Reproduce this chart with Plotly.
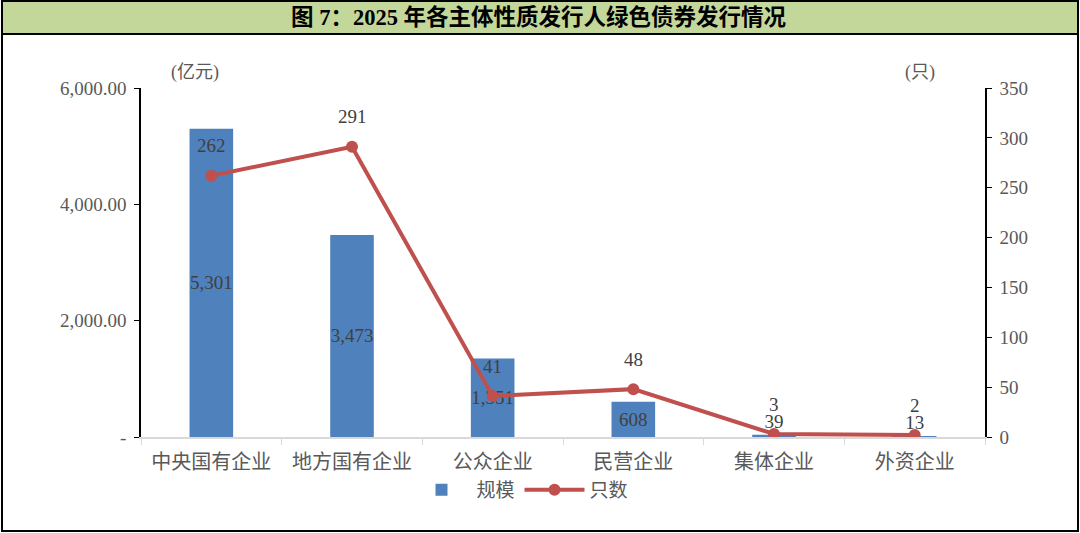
import plotly.graph_objects as go

categories = ["中央国有企业", "地方国有企业", "公众企业", "民营企业", "集体企业", "外资企业"]
scale_values = [5301, 3473, 1351, 608, 39, 13]
count_values = [262, 291, 41, 48, 3, 2]
left_tickvals = [0, 2000, 4000, 6000]
left_ticktext = ["-", "2,000.00", "4,000.00", "6,000.00"]
right_tickvals = [0, 50, 100, 150, 200, 250, 300, 350]

title_text = "图 7：2025 年各主体性质发行人绿色债券发行情况"
FONT = "Liberation Serif, Times New Roman, Noto Sans CJK SC"
W_PX, H_PX = 1080, 533
L, R, T, B = 141, 95, 88, 96
PW = W_PX - L - R
PH = H_PX - T - B


def px_x(px):
    return (px - L) / PW


def px_y(py):
    return (H_PX - B - py) / PH


fig = go.Figure()

fig.add_trace(go.Bar(
    x=categories, y=scale_values, name="规模",
    marker=dict(color="#4F81BD", line=dict(width=0)),
    width=0.31,
    text=[f"{v:,}" for v in scale_values],
    textposition=["inside"] * 4 + ["outside"] * 2,
    insidetextanchor="middle",
    constraintext="none",
    textangle=0,
    insidetextfont=dict(family=FONT, size=19, color="#404040"),
    outsidetextfont=dict(family=FONT, size=19, color="#404040"),
    cliponaxis=False,
))

fig.add_trace(go.Scatter(
    x=categories, y=count_values, name="只数", yaxis="y2",
    mode="lines+markers",
    line=dict(color="#C0504D", width=4),
    marker=dict(color="#C0504D", size=12),
))

annotations = []
for c, v in zip(categories, count_values):
    annotations.append(dict(
        x=c, y=v, xref="x", yref="y2", yshift=30, showarrow=False,
        xanchor="center", yanchor="middle",
        text=str(v), font=dict(family=FONT, size=19, color="#404040"),
    ))

annotations += [
    dict(x=px_x(539), y=px_y(18), xref="paper", yref="paper", showarrow=False,
         xanchor="center", yanchor="middle",
         text="<b>" + title_text + "</b>", font=dict(family=FONT, size=22.5, color="#000000")),
    dict(x=px_x(195), y=px_y(72), xref="paper", yref="paper", showarrow=False,
         xanchor="center", yanchor="middle",
         text="(亿元)", font=dict(family=FONT, size=18, color="#595959")),
    dict(x=px_x(920), y=px_y(72), xref="paper", yref="paper", showarrow=False,
         xanchor="center", yanchor="middle",
         text="(只)", font=dict(family=FONT, size=18, color="#595959")),
]

shapes = [
    dict(type="rect", xref="paper", yref="paper", layer="below",
         x0=px_x(2), x1=px_x(1078), y0=px_y(1), y1=px_y(531),
         line=dict(color="#000000", width=2), fillcolor="rgba(0,0,0,0)"),
    dict(type="rect", xref="paper", yref="paper", layer="below",
         x0=px_x(2), x1=px_x(1078), y0=px_y(1), y1=px_y(34),
         line=dict(color="#000000", width=2), fillcolor="#C4D79B"),
]

fig.update_layout(
    width=W_PX, height=H_PX,
    margin=dict(l=L, r=R, t=T, b=B, pad=0),
    paper_bgcolor="white", plot_bgcolor="white",
    font=dict(family=FONT, size=18, color="#595959"),
    showlegend=True,
    legend=dict(orientation="h", x=px_x(520), y=px_y(490), xanchor="center", yanchor="middle",
                font=dict(family=FONT, size=19, color="#595959"), itemwidth=60,
                bgcolor="rgba(0,0,0,0)"),
    bargap=0.69,
    xaxis=dict(
        type="category", showgrid=False, showline=True, linecolor="#D9D9D9", linewidth=1.5,
        ticks="outside", tickson="boundaries", ticklen=6, tickcolor="#D9D9D9",
        tickfont=dict(family=FONT, size=20, color="#595959"), zeroline=False,
        ticklabelstandoff=6,
    ),
    yaxis=dict(
        range=[0, 6000], tickvals=left_tickvals, ticktext=left_ticktext,
        showgrid=False, zeroline=False, showline=True, linecolor="#000000", linewidth=1.5,
        ticks="outside", ticklen=5, tickcolor="#000000",
        tickfont=dict(family=FONT, size=19, color="#595959"), ticklabelstandoff=4,
    ),
    yaxis2=dict(
        range=[0, 350], tickvals=right_tickvals, overlaying="y", side="right",
        showgrid=False, zeroline=False, showline=True, linecolor="#000000", linewidth=1.5,
        ticks="outside", ticklen=5, tickcolor="#000000",
        tickfont=dict(family=FONT, size=19, color="#595959"), ticklabelstandoff=4,
    ),
    annotations=annotations,
    shapes=shapes,
)

fig.write_html(
    "out.html",
    config={"displayModeBar": False},
    post_script="document.body.style.margin='0';document.body.style.overflow='hidden';",
)
